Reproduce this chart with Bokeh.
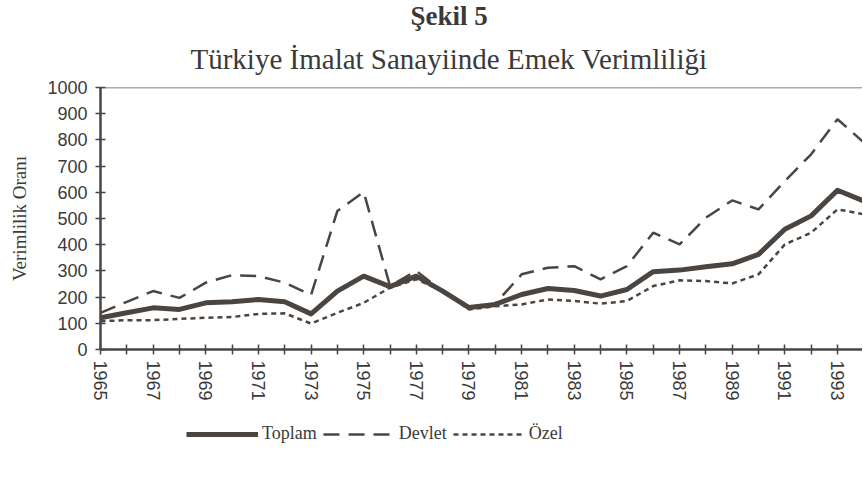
from bokeh.plotting import figure
from bokeh.layouts import column
from bokeh.models import (Range1d, FixedTicker, Legend, LegendItem, Title, Span,
                          ColumnDataSource)
from bokeh.embed import file_html
from bokeh.resources import INLINE

years = list(range(1965, 1995))
toplam = [121, 140, 159, 153, 178, 182, 191, 182, 136, 223, 280, 240, 280, 223, 160,
          172, 210, 233, 225, 204, 229, 297, 303, 316, 327, 363, 459, 510, 608, 567]
devlet = [140, 182, 223, 197, 255, 284, 280, 255, 208, 529, 601, 242, 300, 220, 160,
          175, 287, 312, 318, 268, 318, 446, 401, 503, 569, 535, 643, 745, 879, 790]
ozel = [108, 112, 112, 117, 121, 124, 136, 138, 99, 140, 178, 236, 268, 223, 153,
        165, 172, 191, 185, 175, 185, 242, 264, 261, 252, 287, 401, 446, 535, 516]
label_years = list(range(1965, 1995, 2))
minor_years = list(range(1966, 1995, 2))
y_ticks = list(range(0, 1001, 100))

INK = "#4a4541"
TXT = "#3a3a3a"

src = ColumnDataSource(dict(x=years, toplam=toplam, devlet=devlet, ozel=ozel))

STY = dict(
    toplam=dict(line_color=INK, line_width=5, line_join="round"),
    devlet=dict(line_color=INK, line_width=2.5, line_dash="16 9"),
    ozel=dict(line_color=INK, line_width=2.5, line_dash="5 4"),
)

p = figure(frame_width=762, frame_height=262, output_backend="svg",
           toolbar_location=None,
           x_range=Range1d(1965, 1993.95), y_range=Range1d(0, 1000),
           min_border_left=100, min_border_right=0, min_border_top=87,
           min_border_bottom=56, title=None)
p.background_fill_color = "white"
p.border_fill_color = "white"
p.outline_line_color = None
p.grid.visible = False

p.line("x", "devlet", source=src, **STY["devlet"])
p.line("x", "ozel", source=src, **STY["ozel"])
p.line("x", "toplam", source=src, **STY["toplam"])

p.add_layout(Span(location=1000, dimension="width", line_color="#555555",
                  line_width=1.5))

xa = p.xaxis[0]
xa.ticker = FixedTicker(ticks=label_years, minor_ticks=minor_years)
xa.major_label_orientation = "vertical"
xa.major_label_text_font = "Liberation Sans"
xa.major_label_text_font_size = "18px"
xa.major_label_text_color = TXT
xa.axis_line_color = INK
xa.axis_line_width = 2.5
xa.major_tick_line_color = INK
xa.minor_tick_line_color = INK
xa.major_tick_line_width = 1.5
xa.minor_tick_line_width = 1.5
xa.major_tick_in = 5
xa.major_tick_out = 5
xa.minor_tick_in = 5
xa.minor_tick_out = 5
xa.major_label_standoff = 6

ya = p.yaxis[0]
ya.ticker = FixedTicker(ticks=y_ticks)
ya.major_label_text_font = "Liberation Sans"
ya.major_label_text_font_size = "18px"
ya.major_label_text_color = TXT
ya.axis_line_color = INK
ya.axis_line_width = 2.5
ya.major_tick_line_color = INK
ya.major_tick_line_width = 1.5
ya.major_tick_in = 5
ya.major_tick_out = 5
ya.minor_tick_line_color = None
ya.major_label_standoff = 8
ya.axis_label = "Verimlilik Oranı"
ya.axis_label_text_font = "Liberation Serif"
ya.axis_label_text_font_style = "normal"
ya.axis_label_text_font_size = "19px"
ya.axis_label_text_color = TXT
ya.axis_label_standoff = 14

sub = Title(text="Türkiye İmalat Sanayiinde Emek Verimliliği", align="left",
            offset=90, vertical_align="top", text_font="Liberation Serif",
            text_font_style="normal", text_font_size="29px", text_color=TXT,
            standoff=21)
main = Title(text="Şekil 5", align="left", offset=310, vertical_align="top",
             text_font="Liberation Serif", text_font_style="bold",
             text_font_size="27px", text_color=TXT, standoff=0)
p.add_layout(sub, "above")
p.add_layout(main, "above")

# legend strip below the chart
q = figure(width=862, height=70, output_backend="svg", toolbar_location=None,
           x_range=Range1d(0, 1), y_range=Range1d(0, 1),
           x_axis_type=None, y_axis_type=None, min_border=0, title=None)
q.outline_line_color = None
q.grid.visible = False
q.background_fill_color = "white"
q.border_fill_color = "white"
l_top = q.line("x", "toplam", source=src, **STY["toplam"])
l_dev = q.line("x", "devlet", source=src, **STY["devlet"])
l_oz = q.line("x", "ozel", source=src, **STY["ozel"])

legend = Legend(items=[LegendItem(label="Toplam", renderers=[l_top]),
                       LegendItem(label="Devlet", renderers=[l_dev]),
                       LegendItem(label="Özel", renderers=[l_oz])],
                orientation="horizontal", location=(86, 31),
                glyph_width=72, label_standoff=4, spacing=6,
                label_text_font="Liberation Serif", label_text_font_size="18px",
                label_text_color=TXT, border_line_color=None,
                background_fill_alpha=0, padding=0, margin=0)
q.add_layout(legend, "center")

layout = column(p, q, spacing=0)
open("out.html", "w").write(file_html(layout, INLINE))
